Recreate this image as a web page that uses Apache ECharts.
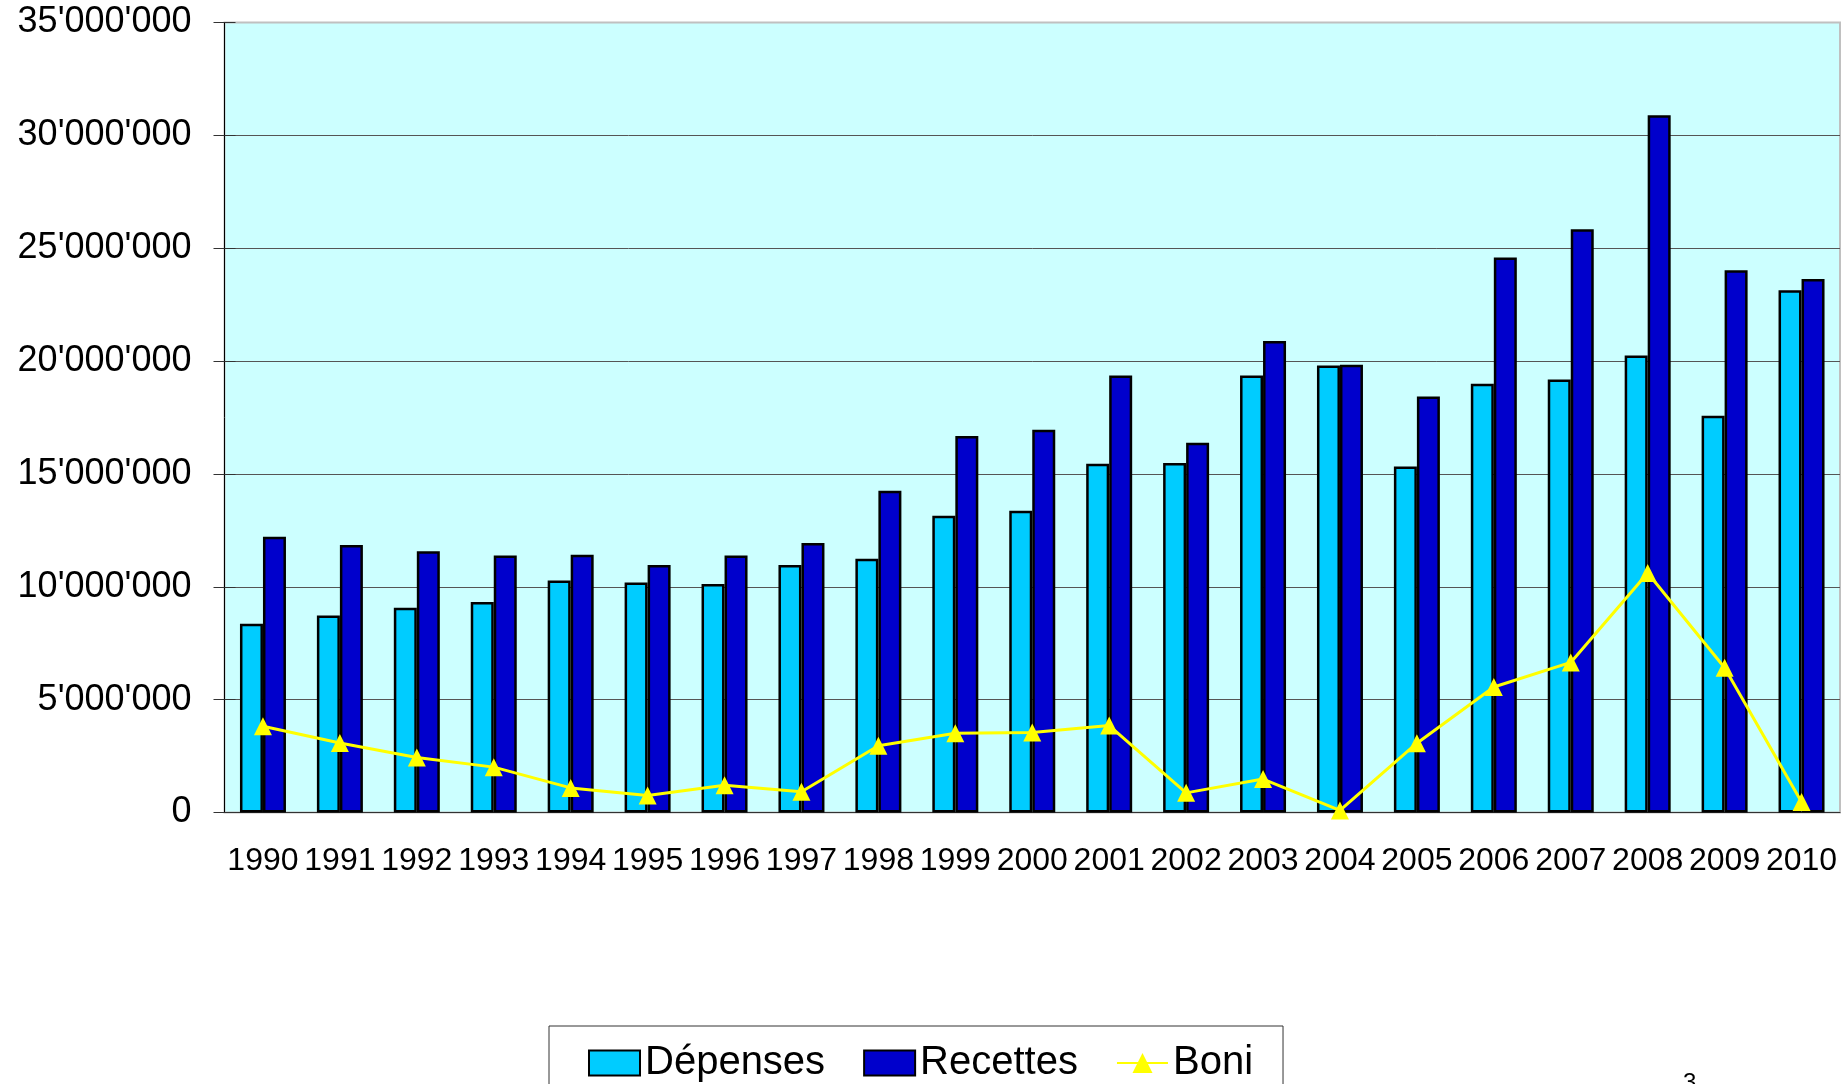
<!DOCTYPE html>
<html>
<head>
<meta charset="utf-8">
<script src="https://cdn.jsdelivr.net/npm/echarts@6/dist/echarts.min.js"></script>
<style>
  html, body { margin: 0; padding: 0; background: #fff; }
  #chart { width: 1843px; height: 1084px; }
</style>
</head>
<body>
<div id="chart"></div>
<script>
// annees
var years = ["1990", "1991", "1992", "1993", "1994", "1995", "1996", "1997", "1998", "1999", "2000",
  "2001", "2002", "2003", "2004", "2005", "2006", "2007", "2008", "2009", "2010"];
// montants
var depenses = [8360000, 8730000, 9070000, 9330000, 10280000, 10190000, 10120000, 10960000, 11240000, 13150000, 13370000,
  15450000, 15480000, 19360000, 19800000, 15330000, 18990000, 19180000, 20250000, 17580000, 23140000];
var recettes = [12220000, 11850000, 11570000, 11390000, 11420000, 10960000, 11390000, 11940000, 14250000, 16680000, 16960000,
  19360000, 16380000, 20890000, 19840000, 18430000, 24590000, 25840000, 30890000, 24020000, 23640000];
var boni = [3820000, 3080000, 2440000, 2010000, 1090000, 750000, 1210000, 920000, 2960000, 3510000, 3540000,
  3850000, 870000, 1480000, 90000, 3070000, 5560000, 6650000, 10610000, 6410000, 470000];
var yMax = 35000000;
var yStep = 5000000;

var font = "Liberation Sans, Arial, sans-serif";

function fmt(v) {
  return String(v).replace(/\B(?=(\d{3})+(?!\d))/g, "'");
}

var chart = echarts.init(document.getElementById("chart"));
chart.setOption({
  animation: false,
  textStyle: { fontFamily: font },
  grid: {
    left: 224.5, top: 22.5, right: 3, bottom: 271.5,
    show: true,
    backgroundColor: "#CCFFFF",
    borderColor: "#c0c0c0",
    borderWidth: 2
  },
  legend: {
    left: 549,
    top: 1026,
    padding: [17, 30, 40, 39],
    itemWidth: 51,
    itemHeight: 25,
    itemGap: 38,
    borderColor: "#333",
    borderWidth: 1,
    textStyle: { fontSize: 40, color: "#000", fontFamily: font },
    data: [
      { name: "Dépenses", icon: "rect" },
      { name: "Recettes", icon: "rect" },
      "Boni"
    ]
  },
  xAxis: [
    {
      type: "category",
      data: years,
      axisLine: { lineStyle: { color: "#333", width: 1 } },
      axisTick: { length: 10, lineStyle: { color: "#333" } },
      axisLabel: { fontSize: 32, color: "#000", margin: 33, interval: 0, fontFamily: font }
    },
    {
      // petits traits vers l'interieur
      type: "category",
      data: years,
      position: "bottom",
      axisLine: { show: false },
      axisTick: { inside: true, length: 9, lineStyle: { color: "#333" } },
      axisLabel: { show: false }
    }
  ],
  yAxis: [
    {
      type: "value",
      min: 0,
      max: yMax,
      interval: yStep,
      axisLine: { show: true, lineStyle: { color: "#000", width: 1 } },
      axisTick: { show: true, length: 11, lineStyle: { color: "#333" } },
      axisLabel: { fontSize: 36, color: "#000", margin: 33, formatter: fmt, fontFamily: font },
      splitLine: { show: true, showMaxLine: false, lineStyle: { color: "#555", width: 1 } }
    },
    {
      type: "value",
      min: 0,
      max: yMax,
      interval: yStep,
      position: "left",
      axisLine: { show: false },
      axisTick: { show: true, inside: true, length: 11, lineStyle: { color: "#333" } },
      axisLabel: { show: false },
      splitLine: { show: false }
    }
  ],
  series: [
    {
      name: "Dépenses",
      type: "bar",
      data: depenses,
      barWidth: 23,
      barGap: "0%",
      itemStyle: { color: "#00CCFF", borderColor: "#000", borderWidth: 2.5 }
    },
    {
      name: "Recettes",
      type: "bar",
      data: recettes,
      barWidth: 23,
      itemStyle: { color: "#0000CC", borderColor: "#000", borderWidth: 2.5 }
    },
    {
      name: "Boni",
      type: "line",
      data: boni,
      symbol: "triangle",
      symbolSize: 18,
      itemStyle: { color: "#FFFF00" },
      lineStyle: { color: "#FFFF00", width: 3 },
      z: 5
    }
  ],
  graphic: [
    {
      type: "text",
      left: 1683,
      top: 1071,
      style: { text: "3", font: "24px " + font, fill: "#000" }
    }
  ]
});
</script>
</body>
</html>
